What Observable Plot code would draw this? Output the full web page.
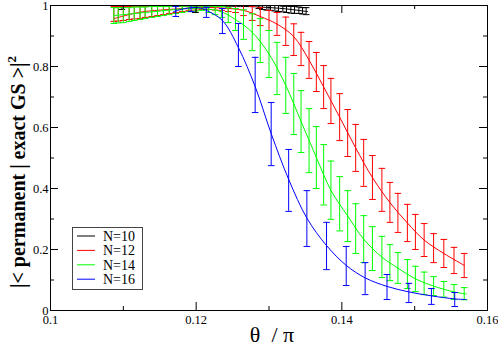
<!DOCTYPE html>
<html><head><meta charset="utf-8">
<script src="https://cdn.jsdelivr.net/npm/d3@7"></script>
<script src="https://cdn.jsdelivr.net/npm/@observablehq/plot@0.6"></script>
<style>body{margin:0;background:#fff}#chart{width:498px;height:346px}</style>
</head><body><div id="chart"></div>
<script>
// ---- data ----
const seriesNames = ["N=10", "N=12", "N=14", "N=16"];
const seriesColors = ["#000000", "#ff0000", "#00ff00", "#0000ff"];

const xMajor = [0.1, 0.12, 0.14, 0.16];
const xTickLabels = ["0.1", "0.12", "0.14", "0.16"];
const xMinor = [0.11, 0.13, 0.15];
const yMajor = [0, 0.2, 0.4, 0.6, 0.8, 1];
const yTickLabels = ["0", "0.2", "0.4", "0.6", "0.8", "1"];
const yMinor = [0.1, 0.3, 0.5, 0.7, 0.9];

// shared theta grid of the N=12 and N=14 points
const thetaRG = [0.1087,0.1093,0.1100,0.1108,0.1115,0.1123,0.1130,0.1139,0.1147,0.1155,0.1163,0.1172,0.1181,0.1190,0.1199,0.1208,0.1217,0.1226,0.1235,0.1244,0.1254,0.1265,0.1277,0.1288,0.1300,0.1311,0.1323,0.1334,0.1344,0.1355,0.1365,0.1375,0.1385,0.1397,0.1408,0.1419,0.1430,0.1442,0.1455,0.1466,0.1477,0.1490,0.1501,0.1513,0.1526,0.1540,0.1554,0.1568];
const red_hi = [0.997,0.997,0.997,0.997,0.997,0.998,0.998,0.998,0.998,0.998,0.998,1.0,1.0,1.0,1.0,1.0,1.0,1.0,1.0,1.0,1.0,1.0,0.997,0.993,0.984,0.977,0.962,0.940,0.912,0.882,0.846,0.803,0.761,0.711,0.659,0.610,0.561,0.508,0.466,0.420,0.384,0.348,0.315,0.285,0.252,0.233,0.207,0.187];
const red_lo = [0.948,0.949,0.951,0.954,0.956,0.957,0.961,0.964,0.967,0.970,0.974,0.977,0.980,0.984,0.985,0.987,0.987,0.985,0.984,0.980,0.977,0.967,0.951,0.934,0.918,0.902,0.869,0.836,0.803,0.761,0.718,0.662,0.613,0.557,0.505,0.456,0.407,0.364,0.325,0.289,0.256,0.226,0.200,0.177,0.157,0.141,0.121,0.108];
const green_hi = [0.993,0.993,0.993,0.993,0.995,0.995,0.995,0.997,0.997,0.997,0.997,0.998,0.998,0.998,0.998,0.998,0.998,0.997,0.997,0.993,0.990,0.986,0.973,0.957,0.918,0.879,0.830,0.777,0.721,0.662,0.603,0.544,0.490,0.439,0.393,0.350,0.311,0.275,0.243,0.216,0.190,0.167,0.145,0.126,0.111,0.095,0.085,0.075];
const green_lo = [0.941,0.943,0.944,0.948,0.951,0.954,0.957,0.961,0.964,0.967,0.970,0.974,0.977,0.980,0.982,0.984,0.977,0.970,0.961,0.944,0.918,0.889,0.852,0.813,0.764,0.708,0.646,0.577,0.518,0.452,0.400,0.346,0.299,0.261,0.226,0.187,0.157,0.131,0.108,0.098,0.089,0.072,0.062,0.052,0.049,0.044,0.036,0.035];

const blue_theta = [0.1172,0.1193,0.1214,0.1236,0.1258,0.1281,0.1303,0.1327,0.1352,0.1379,0.1406,0.1432,0.1462,0.1492,0.1523,0.1555];
const blue_hi = [0.997,1.0,0.994,0.990,0.941,0.830,0.682,0.528,0.393,0.289,0.210,0.157,0.118,0.089,0.072,0.059];
const blue_lo = [0.964,0.980,0.961,0.908,0.800,0.649,0.475,0.325,0.210,0.134,0.082,0.052,0.036,0.026,0.020,0.013];

const black_theta = [0.1098,0.1199,0.1286,0.1291,0.1297,0.1302,0.1308,0.1313,0.1319,0.1324,0.1330,0.1335,0.1341,0.1346,0.1351];
const black_hi = [1.0,1.0,1.0,1.0,1.0,1.0,1.0,1.0,0.998,0.998,0.997,0.997,0.995,0.993,0.993];
const black_lo = [0.987,0.977,0.990,0.987,0.985,0.984,0.982,0.980,0.979,0.977,0.975,0.974,0.974,0.972,0.970];

// fitted curves
const black_line_theta = [0.1096,0.1206,0.1261,0.1288,0.1323,0.1353];
const black_line_val = [0.998,0.998,0.997,0.995,0.989,0.980];
const red_line_theta = [0.1087,0.1123,0.1163,0.1208,0.1235,0.1265,0.1288,0.1311,0.1334,0.1355,0.1375,0.1397,0.1419,0.1442,0.1466,0.1490,0.1513,0.1540,0.1568];
const red_line_val = [0.957,0.978,0.987,0.993,0.992,0.984,0.964,0.939,0.898,0.821,0.733,0.634,0.533,0.436,0.354,0.287,0.231,0.187,0.148];
const green_line_theta = [0.1087,0.1139,0.1190,0.1217,0.1235,0.1254,0.1277,0.1300,0.1323,0.1344,0.1365,0.1385,0.1408,0.1430,0.1455,0.1477,0.1501,0.1526,0.1554,0.1571];
const green_line_val = [0.967,0.979,0.990,0.988,0.979,0.954,0.912,0.841,0.738,0.620,0.502,0.394,0.310,0.234,0.175,0.139,0.104,0.080,0.061,0.054];
const blue_line_theta = [0.1169,0.1185,0.1203,0.1214,0.1236,0.1258,0.1281,0.1303,0.1327,0.1352,0.1379,0.1406,0.1432,0.1462,0.1492,0.1523,0.1555,0.1571];
const blue_line_val = [0.980,0.990,0.993,0.984,0.951,0.862,0.734,0.580,0.430,0.303,0.213,0.148,0.107,0.079,0.061,0.048,0.038,0.036];

const xLabelText = "θ  / π";
const yLabelText = "|< permanent | exact GS >|";
const yLabelSup = "2";

// ---- build tables ----
const mkBars = (t, lo, hi, s) => t.map((v, i) => ({theta: v, lo: lo[i], hi: hi[i], series: s}));
const mkLine = (t, y, s) => t.map((v, i) => ({theta: v, val: y[i], series: s}));
const barSets = [
  mkBars(black_theta, black_lo, black_hi, "N=10"),
  mkBars(thetaRG, red_lo, red_hi, "N=12"),
  mkBars(thetaRG, green_lo, green_hi, "N=14"),
  mkBars(blue_theta, blue_lo, blue_hi, "N=16")
];
const lineSets = [
  mkLine(black_line_theta, black_line_val, "N=10"),
  mkLine(red_line_theta, red_line_val, "N=12"),
  mkLine(green_line_theta, green_line_val, "N=14"),
  mkLine(blue_line_theta, blue_line_val, "N=16")
];

const cap = {draw(ctx, size) { const r = Math.sqrt(size / Math.PI); ctx.moveTo(-r, 0); ctx.lineTo(r, 0); }};

const dataMarks = [];
for (let k = 0; k < 4; k++) {
  dataMarks.push(Plot.line(lineSets[k], {x: "theta", y: "val", stroke: "series", strokeWidth: 1, curve: "catmull-rom", clip: true}));
  dataMarks.push(Plot.ruleX(barSets[k], {x: "theta", y1: "lo", y2: "hi", stroke: "series", strokeWidth: 1, clip: true}));
  dataMarks.push(Plot.dot(barSets[k], {x: "theta", y: "lo", symbol: cap, r: 3.3, stroke: "series", fill: "none", strokeWidth: 1, clip: true}));
  dataMarks.push(Plot.dot(barSets[k], {x: "theta", y: "hi", symbol: cap, r: 3.3, stroke: "series", fill: "none", strokeWidth: 1, clip: true}));
}

const xLab = new Map(xMajor.map((v, i) => [v, xTickLabels[i]]));
const yLab = new Map(yMajor.map((v, i) => [v, yTickLabels[i]]));
const innerW = 498 - 50 - 11, innerH = 346 - 5 - 36;

const plot = Plot.plot({
  width: 498, height: 346,
  marginLeft: 50, marginRight: 11, marginTop: 5, marginBottom: 36,
  x: {domain: [0.1, 0.16]},
  y: {domain: [0, 1]},
  color: {domain: seriesNames, range: seriesColors},
  style: {fontFamily: "'Liberation Serif', 'DejaVu Serif', serif", fontSize: "12.5px", background: "#fff", color: "#000", overflow: "visible"},
  marks: [
    ...dataMarks,
    Plot.tickX(xMajor, {x: d => d, insetTop: innerH - 8, stroke: "#000"}),
    Plot.tickX(xMinor, {x: d => d, insetTop: innerH - 4, stroke: "#000"}),
    Plot.tickX(xMajor, {x: d => d, insetBottom: innerH - 8, stroke: "#000"}),
    Plot.tickX(xMinor, {x: d => d, insetBottom: innerH - 4, stroke: "#000"}),
    Plot.tickY(yMajor, {y: d => d, insetRight: innerW - 8, stroke: "#000"}),
    Plot.tickY(yMinor, {y: d => d, insetRight: innerW - 4, stroke: "#000"}),
    Plot.tickY(yMajor, {y: d => d, insetLeft: innerW - 8, stroke: "#000"}),
    Plot.tickY(yMinor, {y: d => d, insetLeft: innerW - 4, stroke: "#000"}),
    Plot.axisX(xMajor, {tickSize: 0, tickPadding: 5, tickFormat: d => xLab.get(d), label: null}),
    Plot.axisY(yMajor, {tickSize: 0, tickPadding: 2, tickFormat: d => yLab.get(d), label: null}),
    Plot.frame({stroke: "#000"})
  ]
});
document.getElementById("chart").appendChild(plot);

// ---- labels and legend ----
const svg = d3.select(plot);
const serif = "'Liberation Serif', 'DejaVu Serif', serif";
svg.append("text").attr("x", 272).attr("y", 342).attr("text-anchor", "middle")
  .attr("font-family", serif).attr("font-size", 22).attr("fill", "#000").text(xLabelText);
const yl = svg.append("text").attr("transform", "translate(25,172) rotate(-90)").attr("text-anchor", "middle")
  .attr("font-family", serif).attr("font-size", 20).attr("font-weight", "bold").attr("fill", "#000");
yl.append("tspan").text(yLabelText);
yl.append("tspan").attr("dy", -9).attr("font-size", 13).text(yLabelSup);

const lg = svg.append("g");
lg.append("rect").attr("x", 72.5).attr("y", 227.5).attr("width", 70).attr("height", 62)
  .attr("fill", "#fff").attr("stroke", "#444");
seriesNames.forEach((s, i) => {
  const yy = 236 + i * 14.4;
  lg.append("line").attr("x1", 77).attr("x2", 95).attr("y1", yy).attr("y2", yy)
    .attr("stroke", seriesColors[i]).attr("stroke-width", 1);
  lg.append("text").attr("x", 103).attr("y", yy + 5).attr("text-anchor", "start").attr("font-family", serif)
    .attr("font-size", 14).attr("fill", "#000").text(s);
});
</script></body></html>
